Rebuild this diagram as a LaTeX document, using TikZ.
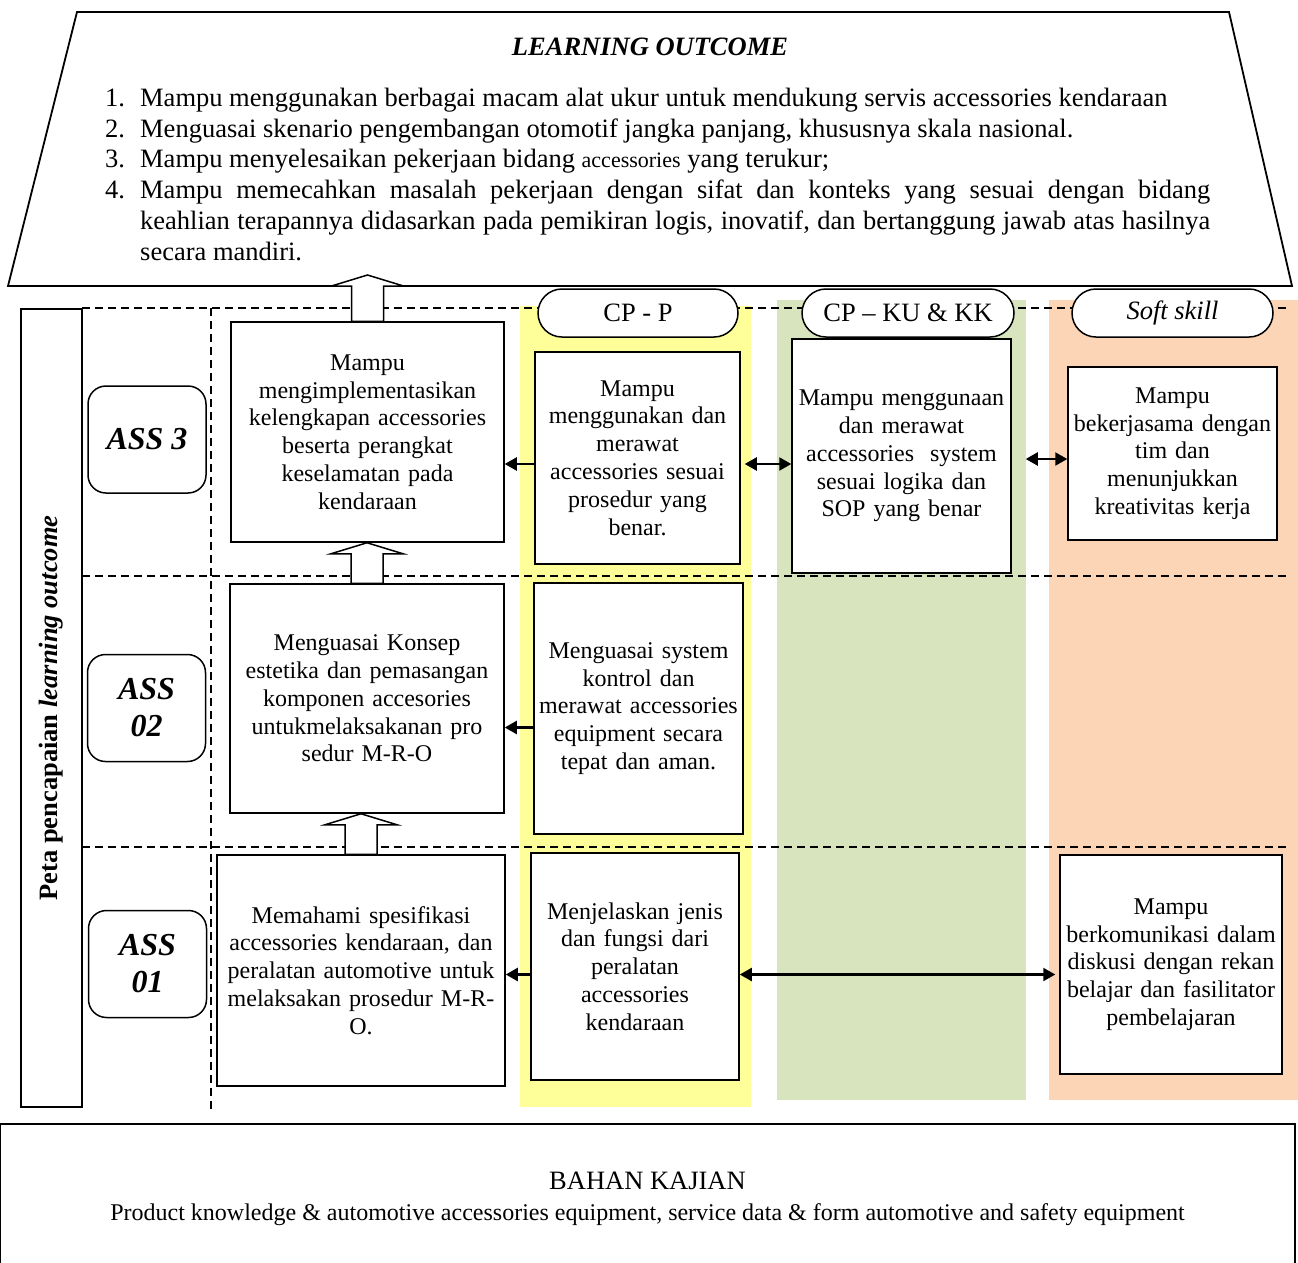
\documentclass[tikz,border=0pt]{standalone}
\usepackage{fontspec}
\setmainfont{Liberation Serif}
\usetikzlibrary{arrows.meta,calc}

\definecolor{cpyellow}{RGB}{255,255,153}
\definecolor{cpgreen}{RGB}{215,228,189}
\definecolor{cppeach}{RGB}{251,213,181}

\newcommand{\boxfont}{\fontsize{24}{27.8}\selectfont}
\newcommand{\lofont}{\fontsize{26.5}{30.7}\selectfont}
\newcommand{\assfont}{\fontsize{32}{37}\selectfont\bfseries\itshape}
\newcommand{\pillfont}{\fontsize{26.5}{30}\selectfont}
\newcommand{\loitem}[1]{\hangindent=35pt\hangafter=1\noindent\makebox[35pt][l]{#1}}
\newcommand{\uparrowbox}[2]{%
  \draw[hollow] let \p1=(#1), \p2=(#2) in
    (\x1-16pt,\y1) -- (\x1-16pt,\y2-11pt) -- (\x1-36pt,\y2-11pt) -- (\x1,\y2)
    -- (\x1+36pt,\y2-11pt) -- (\x1+16pt,\y2-11pt) -- (\x1+16pt,\y1) -- cycle;}

\begin{document}
\begin{tikzpicture}[x=1pt,y=-1pt,
  box/.style={draw,line width=1.5pt,fill=white,align=center,inner sep=0pt,font=\boxfont},
  ass/.style={draw,line width=1.5pt,rounded corners=18pt,align=center,font=\assfont,
    minimum width=118pt,minimum height=107pt},
  pill/.style={draw,line width=1.5pt,fill=white,rounded corners=24pt,minimum height=48pt,
    inner sep=0pt,font=\pillfont},
  grid/.style={line width=1.3pt,dash pattern=on 8pt off 5pt},
  hollow/.style={draw,line width=1.5pt,fill=white},
  arr/.style={line width=2.2pt,-{Triangle[length=12pt,width=13pt]}},
  dbl/.style={line width=2.2pt,{Triangle[length=12pt,width=13pt]}-{Triangle[length=12pt,width=13pt]}}]
\useasboundingbox (0,0) rectangle (1298,1262);

% kolom CP
\fill[cpyellow] (520,306) rectangle (751,1107);
\fill[cpgreen] (777,300) rectangle (1026,1100);
\fill[cppeach] (1049,300) rectangle (1298,1100);

% learning outcome
\draw[line width=1.8pt] (77,12) -- (1229,12) -- (1292,286) -- (8,286) -- cycle;
\node[font=\lofont\bfseries\itshape] (lotitle) at (650,47) {LEARNING OUTCOME};
\node[anchor=north west,inner sep=0pt,text width=1105pt,align=justify,font=\lofont] (lolist) at (105,88) {%
\loitem{1.}Mampu menggunakan berbagai macam alat ukur untuk mendukung servis accessories kendaraan\par
\loitem{2.}Menguasai skenario pengembangan otomotif jangka panjang, khususnya skala nasional.\par
\loitem{3.}Mampu menyelesaikan pekerjaan bidang {\fontsize{22}{30.7}\selectfont accessories} yang terukur;\par
\loitem{4.}Mampu memecahkan masalah pekerjaan dengan sifat dan konteks yang sesuai dengan bidang\linebreak
keahlian terapannya didasarkan pada pemikiran logis, inovatif, dan bertanggung jawab atas hasilnya\linebreak
secara mandiri.\par};
\coordinate (lotip) at (362,275);

% garis bantu
\draw[grid] (82,308) -- (1290,308);
\draw[grid] (82,576) -- (1290,576);
\draw[grid] (82,847) -- (1290,847);
\draw[grid] (211,308) -- (211,1110);

\node[draw,line width=1.5pt,rotate=90,minimum width=798pt,minimum height=61pt,inner sep=0pt,
  font=\fontsize{26.5}{30}\selectfont\bfseries] (peta) at (51.5,708) {Peta pencapaian \textit{learning outcome}};

\node[ass] (ass3) at (147,439.5) {ASS 3};
\node[ass] (ass2) at (146.5,708) {ASS\\02};
\node[ass] (ass1) at (147.5,964) {ASS\\01};

\node[box,text width=273pt,minimum height=220pt] (box1) at (367.5,432) {Mampu\\mengimplementasikan\\kelengkapan accessories\\beserta perangkat\\keselamatan pada\\kendaraan};
\node[box,text width=274pt,minimum height=229pt] (box2) at (367,698.5) {Menguasai Konsep\\estetika dan pemasangan\\komponen accesories\\untukmelaksakanan pro\\sedur M-R-O};
\node[box,text width=288pt,minimum height=231pt] (box3) at (361,970.5) {Memahami spesifikasi\\accessories kendaraan, dan\\peralatan automotive untuk\\melaksakan prosedur M-R-\\O.};

\node[pill,minimum width=200pt] (cpp) at (638,313) {CP - P};
\node[pill,minimum width=212pt] (cpk) at (908,313) {CP -- KU \& KK};
\node[pill,minimum width=201pt] (soft) at (1172.5,313) {\textit{Soft skill}};

\node[box,text width=205pt,minimum height=212pt] (p1) at (637.5,458) {Mampu\\menggunakan dan\\merawat\\accessories sesuai\\prosedur yang\\benar.};
\node[box,text width=209pt,minimum height=251pt] (p2) at (638.5,708.5) {Menguasai system\\kontrol dan\\merawat accessories\\equipment secara\\tepat dan aman.};
\node[box,text width=208pt,minimum height=227pt] (p3) at (635,966.5) {Menjelaskan jenis\\dan fungsi dari\\peralatan\\accessories\\kendaraan};

\node[box,text width=219pt,minimum height=234pt] (k1) at (901.5,456) {Mampu menggunaan\\dan merawat\\accessories~ system\\sesuai logika dan\\SOP yang benar};

\node[box,text width=209pt,minimum height=173pt] (s1) at (1172.5,453.5) {Mampu\\bekerjasama dengan\\tim dan\\menunjukkan\\kreativitas kerja};
\node[box,text width=222pt,minimum height=219pt] (s3) at (1171,964.5) {Mampu\\berkomunikasi dalam\\diskusi dengan rekan\\belajar dan fasilitator\\pembelajaran};

\node[draw,line width=1.5pt,minimum width=1295pt,minimum height=150pt,inner sep=0pt,align=center,
  font=\lofont] (kajian) at (647.5,1199) {BAHAN KAJIAN\\{\fontsize{24}{30}\selectfont Product knowledge \& automotive accessories equipment, service data \& form automotive and safety equipment}};

% panah blok
\uparrowbox{box1.north}{lotip}
\uparrowbox{box2.north}{box1.south}
\uparrowbox{box3.north}{box2.south}

% panah
\draw[arr] ([yshift=-6pt]p1.west) -- ([yshift=-6pt]p1.west -| box1.east);
\draw[arr] ([yshift=-19pt]p2.west) -- ([yshift=-19pt]p2.west -| box2.east);
\draw[arr] ([yshift=-8pt]p3.west) -- ([yshift=-8pt]p3.west -| box3.east);
\draw[dbl,shorten <=4pt] ([yshift=-6pt]p1.east) -- ([yshift=-6pt]p1.east -| k1.west);
\draw[dbl,shorten <=14pt] ([yshift=-3pt]k1.east) -- ([yshift=-3pt]k1.east -| s1.west);
\draw[dbl,shorten >=4pt] ([yshift=-8pt]p3.east) -- ([yshift=-8pt]p3.east -| s3.west);

\end{tikzpicture}
\end{document}
